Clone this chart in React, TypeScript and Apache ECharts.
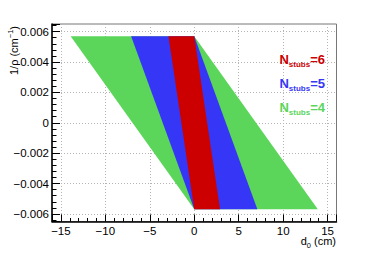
import React, { useEffect, useRef } from "react";
import * as echarts from "echarts";

// ---- data ----
const nStubs = [4, 5, 6];
const d0OuterTop = [-13.9, -7.1, -2.9]; // outer d0 edge at 1/rho max
const d0OuterBottom = [13.9, 7.1, 2.9]; // outer d0 edge at 1/rho min
const d0Inner = [0, 0, 0];
const rhoTop = [0.0057, 0.0057, 0.0057];
const rhoBottom = [-0.0057, -0.0057, -0.0057];
const xRange = [-16, 16];
const yRange = [-0.0065, 0.0065];
const labelOrder = [6, 5, 4];

// ---- styles ----
const COLORS: Record<number, string> = { 4: "#5bd65b", 5: "#3636f6", 6: "#cc0000" };
const FONT = "'Liberation Sans', Arial, Helvetica, sans-serif";

function fmt(v: number): string {
  const a = parseFloat(Math.abs(v).toFixed(5));
  return (v < 0 ? "\u2212" : "") + String(a);
}

export default function App() {
  const ref = useRef<HTMLDivElement>(null);
  useEffect(() => {
    if (!ref.current) return;
    const chart = echarts.init(ref.current, undefined, { renderer: "svg" });
    const data = nStubs.map((n, i) => [
      d0OuterTop[i],
      rhoTop[i],
      d0OuterBottom[i],
      rhoBottom[i],
      d0Inner[i],
      n,
    ]);
    const labelGraphics = labelOrder.map((n, i) => ({
      type: "text",
      x: 325,
      y: 50 + i * 24.2,
      z: 10,
      style: {
        text: `{m|N}{s|stubs}{m|=${n}}`,
        align: "right",
        verticalAlign: "top",
        fill: COLORS[n],
        rich: {
          m: { fontSize: 13, fontWeight: "bold", fontFamily: FONT, lineHeight: 18, fill: COLORS[n] },
          s: { fontSize: 8, fontWeight: "bold", fontFamily: FONT, verticalAlign: "bottom", fill: COLORS[n] },
        },
      },
    }));
    chart.setOption({
      animation: false,
      backgroundColor: "#ffffff",
      grid: {
        left: 52,
        right: 37.5,
        top: 24,
        bottom: 32.5,
        show: true,
        borderColor: "#777777",
        borderWidth: 1,
        backgroundColor: "transparent",
      },
      xAxis: {
        type: "value",
        min: xRange[0],
        max: xRange[1],
        splitNumber: 6,
        axisLine: { show: true, onZero: false, lineStyle: { color: "#000", width: 1.5 } },
        axisTick: { show: true, inside: true, length: 7, lineStyle: { color: "#000", width: 1 } },
        minorTick: { show: true, splitNumber: 5, length: 3.5, lineStyle: { color: "#000", width: 1 } },
        axisLabel: {
          show: true,
          margin: 3,
          fontSize: 11.5,
          fontFamily: FONT,
          color: "#000",
          showMinLabel: false,
          showMaxLabel: false,
          formatter: (v: number) => fmt(v),
        },
        splitLine: {
          show: true,
          showMinLine: false,
          showMaxLine: false,
          lineStyle: { color: "#b4b4b4", type: [1, 2], width: 1 },
        },
      },
      yAxis: {
        type: "value",
        min: yRange[0],
        max: yRange[1],
        splitNumber: 6,
        axisLine: { show: true, onZero: false, lineStyle: { color: "#000", width: 1.5 } },
        axisTick: { show: true, inside: true, length: 8, lineStyle: { color: "#000", width: 1 } },
        minorTick: { show: true, splitNumber: 5, length: 4.5, lineStyle: { color: "#000", width: 1 } },
        axisLabel: {
          show: true,
          margin: 3,
          fontSize: 11.5,
          fontFamily: FONT,
          color: "#000",
          showMinLabel: false,
          showMaxLabel: false,
          formatter: (v: number) => fmt(v),
        },
        splitLine: {
          show: true,
          showMinLine: false,
          showMaxLine: false,
          lineStyle: { color: "#b4b4b4", type: [1, 2], width: 1 },
        },
      },
      series: [
        {
          type: "custom",
          z: 3,
          clip: true,
          encode: { x: [0, 2, 4], y: [1, 3] },
          data,
          renderItem: (_params: any, api: any) => {
            const xo1 = api.value(0);
            const y1 = api.value(1);
            const xo2 = api.value(2);
            const y2 = api.value(3);
            const xi = api.value(4);
            const n = api.value(5);
            const points = [
              api.coord([xo1, y1]),
              api.coord([xi, y1]),
              api.coord([xo2, y2]),
              api.coord([xi, y2]),
            ];
            return {
              type: "polygon",
              shape: { points },
              style: { fill: COLORS[n], stroke: null },
            };
          },
        },
      ],
      graphic: [
        {
          type: "text",
          x: 14,
          y: 26,
          rotation: Math.PI / 2,
          style: {
            text: "{m|1/\u03c1 (cm}{p|\u22121}{m|)}",
            align: "right",
            verticalAlign: "middle",
            fill: "#000",
            rich: {
              m: { fontSize: 11, fontFamily: FONT, lineHeight: 16, fill: "#000" },
              p: { fontSize: 7.5, fontFamily: FONT, verticalAlign: "top", fill: "#000" },
            },
          },
        },
        {
          type: "text",
          x: 336,
          y: 241,
          style: {
            text: "{m|d}{b|0}{m| (cm)}",
            align: "right",
            verticalAlign: "middle",
            fill: "#000",
            rich: {
              m: { fontSize: 11, fontFamily: FONT, lineHeight: 16, fill: "#000" },
              b: { fontSize: 7.5, fontFamily: FONT, verticalAlign: "bottom", fill: "#000" },
            },
          },
        },
        ...labelGraphics,
      ],
    });
    return () => chart.dispose();
  }, []);
  return (
    <div
      ref={ref}
      style={{ position: "fixed", left: 0, top: 0, width: 374, height: 254, background: "#fff" }}
    />
  );
}
